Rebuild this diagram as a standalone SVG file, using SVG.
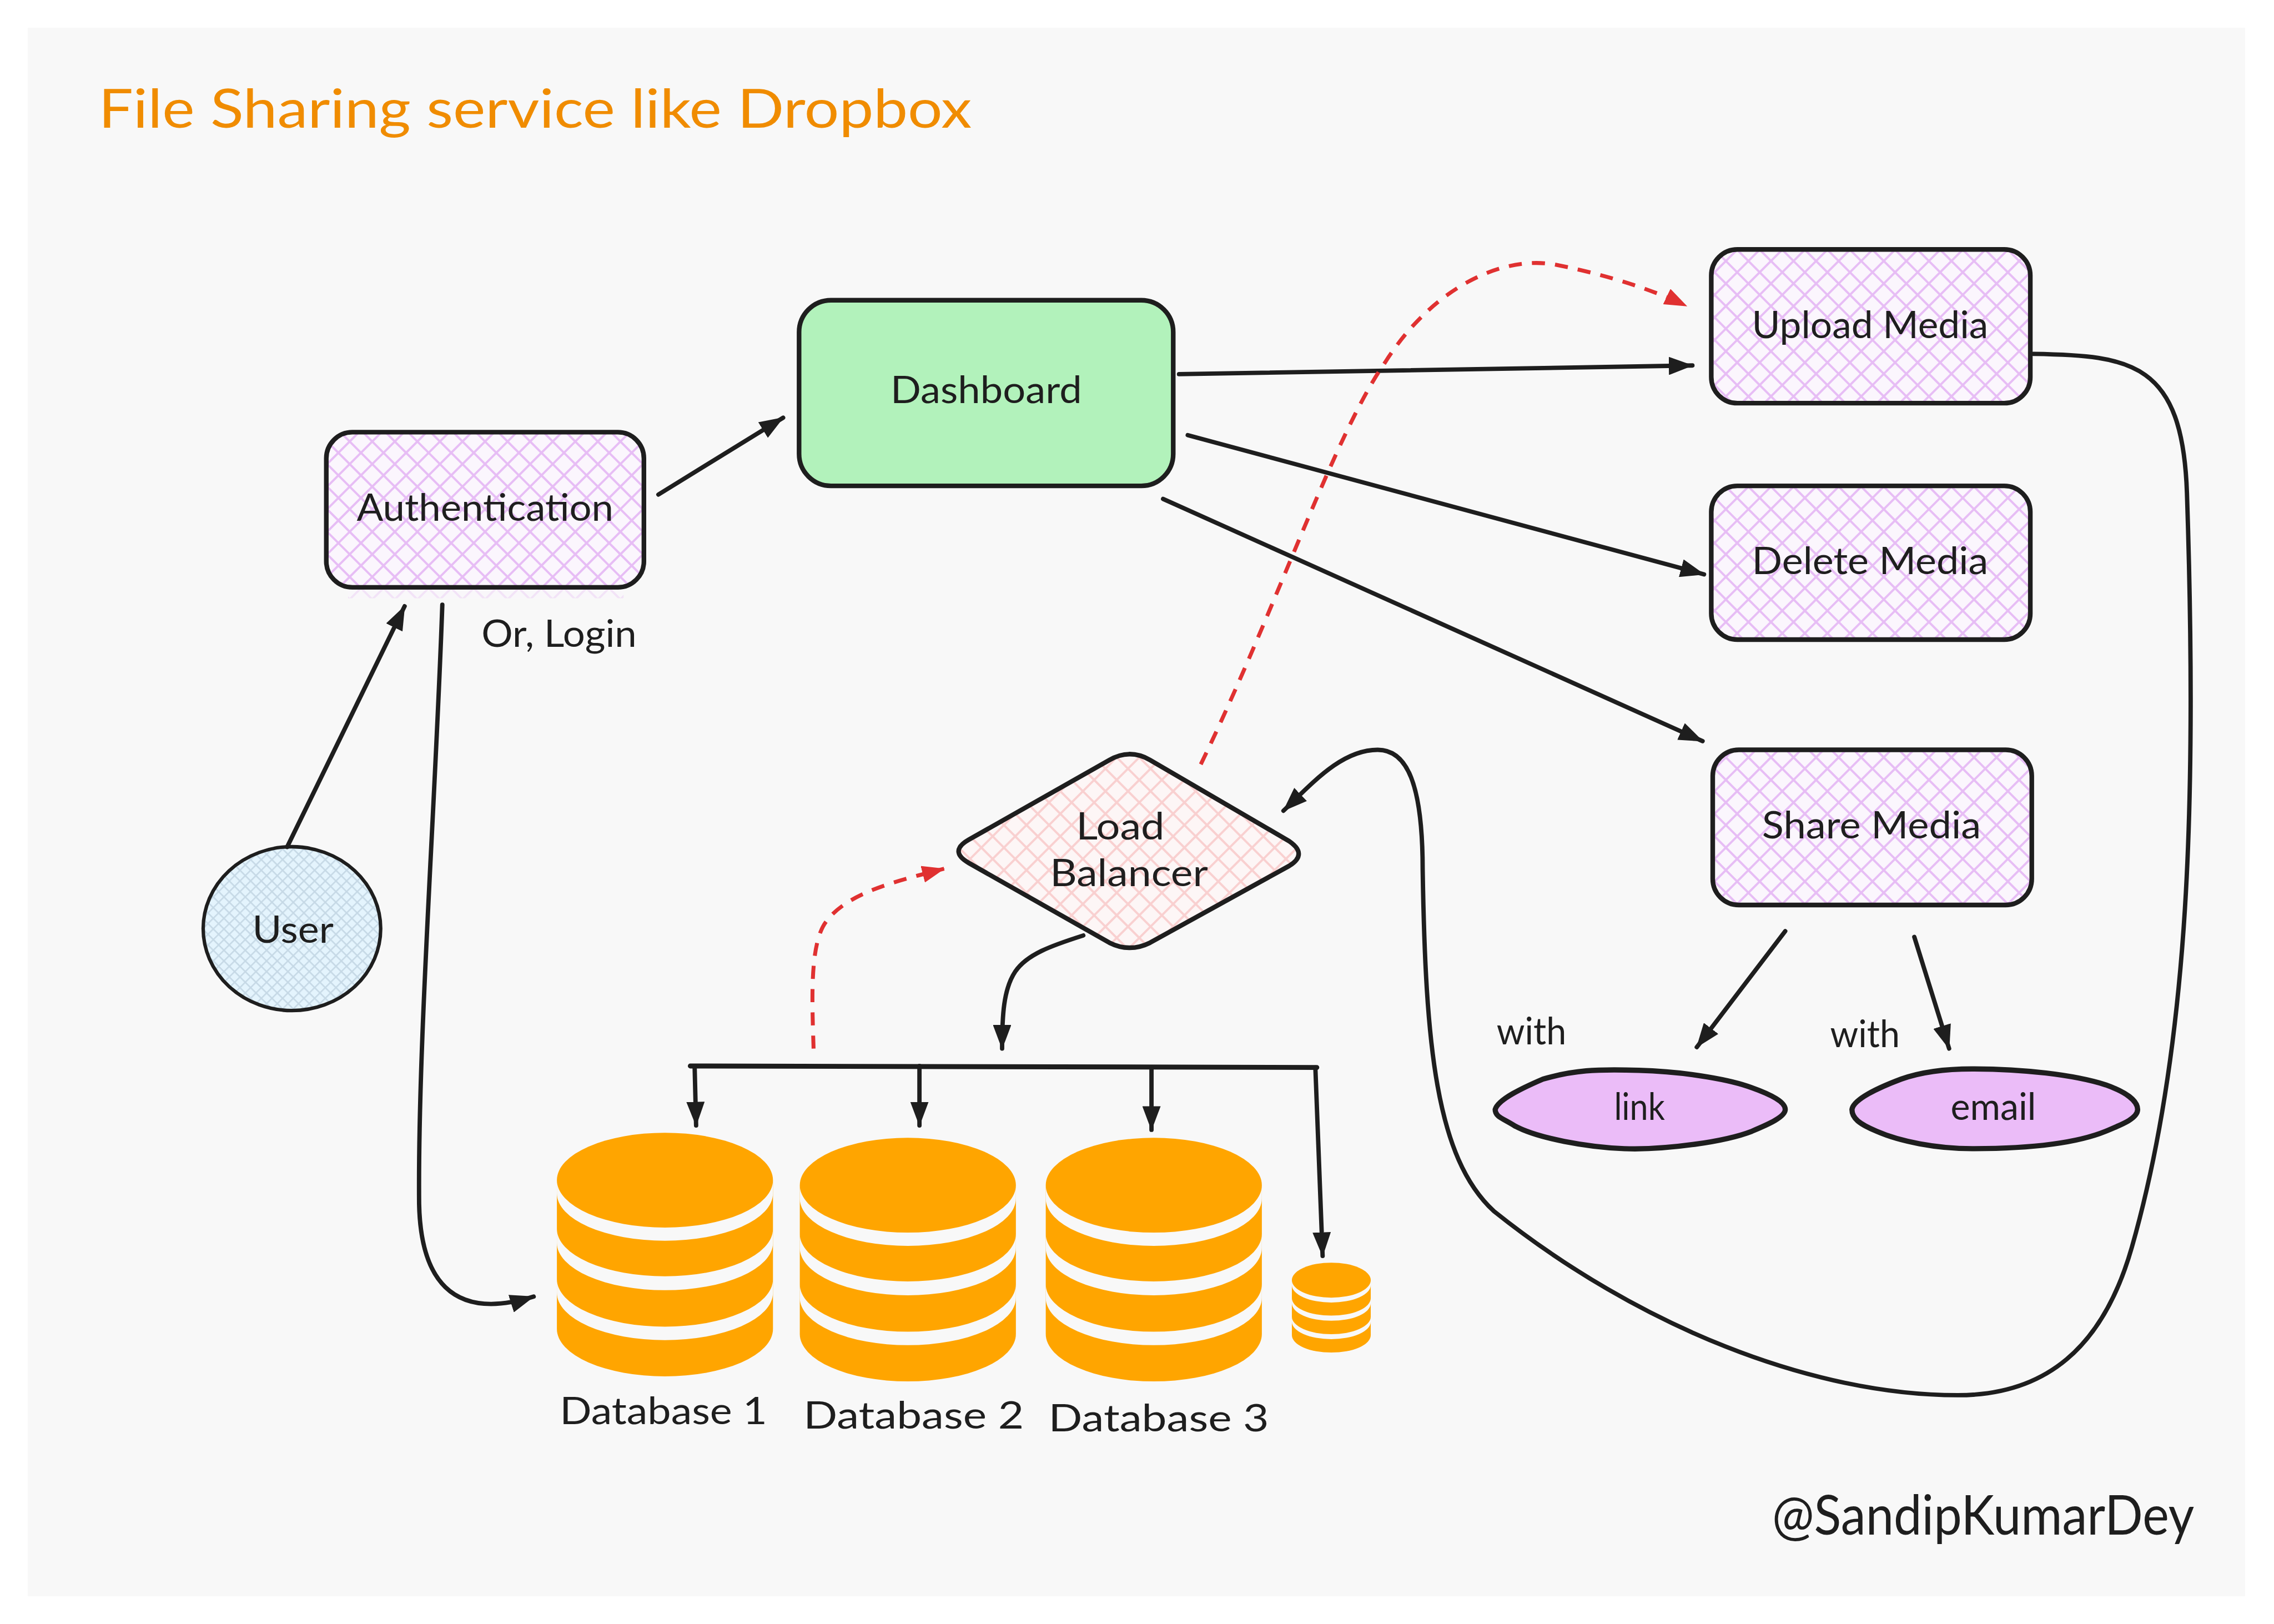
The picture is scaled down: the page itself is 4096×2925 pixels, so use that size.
<svg xmlns="http://www.w3.org/2000/svg" width="4096" height="2925" viewBox="0 0 4096 2925">
<style>
text{font-family:"Lato","Noto Sans",sans-serif;fill:#1e1e1e;font-size:26px}
.title{fill:#f08c00;font-size:37px}
.sig{font-size:38px}
.box{stroke:#1e1e1e;stroke-width:3.2;stroke-linejoin:round}
.c{fill:none;stroke:#1e1e1e;stroke-width:3;stroke-linecap:round;stroke-linejoin:round}
.a{marker-end:url(#ah)}
.r{fill:none;stroke:#e03131;stroke-width:2.7;stroke-dasharray:9 7;marker-end:url(#rh)}
.org{fill:#ffa500}
.band{fill:#f8f8f8}
</style>
<defs>
<marker id="ah" viewBox="0 0 16 12" refX="15.500" refY="6" markerWidth="5.600" markerHeight="4.200" orient="auto" markerUnits="strokeWidth"><path d="M0 0L16 6L0 12Z" fill="#1e1e1e"/></marker>
<marker id="rh" viewBox="0 0 16 12" refX="15.500" refY="6" markerWidth="5.800" markerHeight="4.350" orient="auto" markerUnits="strokeWidth"><path d="M0 0L16 6L0 12Z" fill="#e03131"/></marker>
<pattern id="hp" width="11" height="11" patternUnits="userSpaceOnUse" patternTransform="rotate(45)"><rect width="11" height="11" fill="#fbf6fd"/><path d="M0 0H11M0 0V11" stroke="#e7bdf5" stroke-width="3" fill="none"/></pattern>
<pattern id="hr" width="11" height="11" patternUnits="userSpaceOnUse" patternTransform="rotate(45)"><rect width="11" height="11" fill="#fdf6f6"/><path d="M0 0H11M0 0V11" stroke="#f9d0d0" stroke-width="3" fill="none"/></pattern>
<pattern id="hb" width="5.200" height="5.200" patternUnits="userSpaceOnUse" patternTransform="rotate(45)"><rect width="5.200" height="5.200" fill="#e4f4fd"/><path d="M0 0H5.200M0 0V5.200" stroke="#c6d9e6" stroke-width="2" fill="none"/></pattern>
<g id="db">
<path class="org" d="M-74.500 32.700A74.500 32.700 0 0 1 74.500 32.700V135.300A74.500 32.700 0 0 1 -74.500 135.300Z"/>
<path class="band" d="M-74.500 32.700A74.500 32.700 0 0 0 74.500 32.700V41.800A74.500 32.700 0 0 1 -74.500 41.800Z"/>
<path class="band" d="M-74.500 66.300A74.500 32.700 0 0 0 74.500 66.300V75.900A74.500 32.700 0 0 1 -74.500 75.900Z"/>
<path class="band" d="M-74.500 101A74.500 32.700 0 0 0 74.500 101V110.300A74.500 32.700 0 0 1 -74.500 110.300Z"/>
</g>
</defs>
<rect width="4096" height="2925" fill="#ffffff"/>
<rect x="50" y="50" width="3994" height="2825" fill="#f8f8f8"/>
<g transform="scale(2.6122)">
<g id="title"><text class="title" x="68" y="88" textLength="602" lengthAdjust="spacingAndGlyphs">File Sharing service like Dropbox</text></g>
<g id="authentication"><rect x="225" y="298" width="219" height="107" rx="18" fill="url(#hp)" class="box"/><rect x="240" y="406.500" width="190" height="6" fill="url(#hp)" opacity=".35"/><text x="246" y="359" textLength="177" lengthAdjust="spacingAndGlyphs">Authentication</text></g>
<g id="dashboard"><rect x="551" y="207" width="258" height="128" rx="22" fill="#b2f2bb" class="box"/><text x="614" y="278" textLength="132" lengthAdjust="spacingAndGlyphs">Dashboard</text></g>
<g id="upload-media"><rect x="1180" y="172" width="220" height="106" rx="18" fill="url(#hp)" class="box"/><text x="1208" y="233" textLength="163" lengthAdjust="spacingAndGlyphs">Upload Media</text></g>
<g id="delete-media"><rect x="1180" y="335" width="220" height="106" rx="18" fill="url(#hp)" class="box"/><text x="1208" y="396" textLength="163" lengthAdjust="spacingAndGlyphs">Delete Media</text></g>
<g id="share-media"><rect x="1181" y="517" width="220" height="107" rx="18" fill="url(#hp)" class="box"/><text x="1215" y="578" textLength="151" lengthAdjust="spacingAndGlyphs">Share Media</text></g>
<g id="user"><ellipse cx="201.300" cy="640.300" rx="61.200" ry="56.500" fill="url(#hb)" class="box" style="stroke-width:2.4"/><text x="174" y="650" textLength="56" lengthAdjust="spacingAndGlyphs">User</text></g>
<g id="load-balancer"><path d="M668 579L765 524Q779 516 793 524L889 580Q902 589 889 597L793 650Q779 657 765 650L668 595Q654 587 668 579Z" fill="url(#hr)" class="box"/><text x="742" y="579" textLength="61" lengthAdjust="spacingAndGlyphs">Load</text><text x="724" y="611" textLength="109" lengthAdjust="spacingAndGlyphs">Balancer</text></g>
<g id="link"><path d="M1031 765C1033 758 1050 750 1064 744C1085 738 1100 737 1130 738C1165 739 1195 745 1208 750C1222 755 1231 760 1231 765C1231 770 1220 775 1208 780C1190 787 1150 793 1120 792C1095 791 1060 785 1044 776C1036 771 1031 770 1031 765Z" fill="#ebbcf8" class="box" style="stroke-width:3.600"/><text x="1113" y="772" textLength="35" lengthAdjust="spacingAndGlyphs">link</text></g>
<g id="email"><path d="M1277 765C1278 758 1295 750 1311 744C1325 739 1342 737 1360 737C1395 737 1430 741 1452 748C1466 753 1474 759 1474 765C1474 771 1464 775 1452 780C1430 789 1395 792 1360 792C1335 792 1310 787 1294 780C1282 775 1277 771 1277 765Z" fill="#ebbcf8" class="box" style="stroke-width:3.600"/><text x="1345" y="772" textLength="59" lengthAdjust="spacingAndGlyphs">email</text></g>
<g id="database-1"><use href="#db" transform="translate(458.500 781)"/><text x="386" y="982" textLength="143" lengthAdjust="spacingAndGlyphs">Database 1</text></g>
<g id="database-2"><use href="#db" transform="translate(626 784.500)"/><text x="554" y="985" textLength="152" lengthAdjust="spacingAndGlyphs">Database 2</text></g>
<g id="database-3"><use href="#db" transform="translate(795.600 784.500)"/><text x="723" y="987" textLength="152" lengthAdjust="spacingAndGlyphs">Database 3</text></g>
<g id="database-small"><use href="#db" transform="translate(918 870.600) scale(.365 .369)"/></g>
<g id="labels"><text x="332" y="446" textLength="107" lengthAdjust="spacingAndGlyphs">Or, Login</text><text x="1032" y="720" textLength="48" lengthAdjust="spacingAndGlyphs">with</text><text x="1262" y="722" textLength="48" lengthAdjust="spacingAndGlyphs">with</text><text class="sig" x="1222" y="1058" textLength="291" lengthAdjust="spacingAndGlyphs">@SandipKumarDey</text></g>
<g id="connectors">
<path class="c a" d="M454 341L540 288"/>
<path class="c a" d="M198 584L279 418"/>
<path class="c a" d="M305 417C300 560 288 720 289 830C290 880 310 912 368 894"/>
<path class="c a" d="M813 258L1167 252"/>
<path class="c a" d="M819 300L1175 396"/>
<path class="c a" d="M802 344L1174 511"/>
<path class="r" d="M828 527C880 420 920 300 955 250C990 195 1040 175 1075 183C1110 190 1140 200 1163 211"/>
<path class="r" d="M561 723C560 690 558 650 570 635C585 615 620 607 651 599"/>
<path class="c a" d="M747 645C725 652 708 658 700 670C692 682 691 700 691 723"/>
<path class="c" style="stroke-width:3.400" d="M476 735L908 736"/>
<path class="c a" d="M479 736L480 776"/>
<path class="c a" d="M634 735L634 776"/>
<path class="c a" d="M794 736L794 779"/>
<path class="c a" d="M907 736L912 866"/>
<path class="c a" d="M1402 244C1470 245 1505 250 1508 340C1515 550 1510 720 1470 860C1450 930 1410 962 1350 962C1250 962 1130 915 1030 835C990 798 983 720 981 600C981 540 970 517 950 517C925 517 905 540 885 559"/>
<path class="c a" d="M1231 642L1170 722"/>
<path class="c a" d="M1320 646L1344 723"/>
</g>
</g>
</svg>
